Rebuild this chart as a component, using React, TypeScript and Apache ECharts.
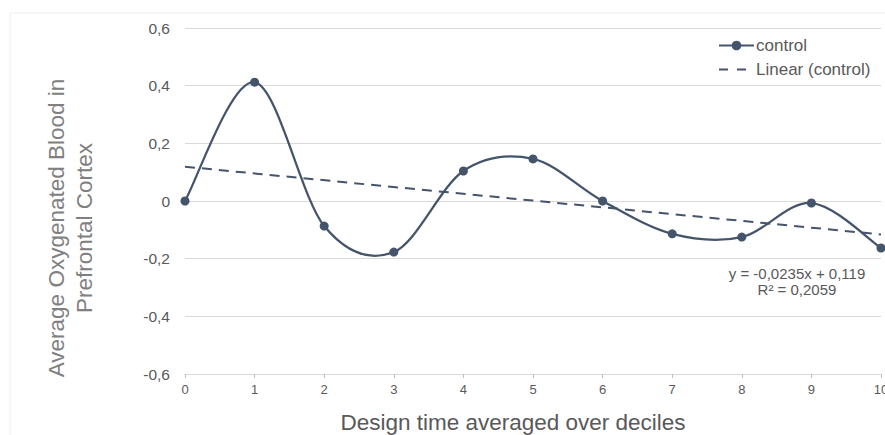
import React, { useEffect, useRef } from "react";
import * as echarts from "echarts";

const deciles = [0, 1, 2, 3, 4, 5, 6, 7, 8, 9, 10];
const controlValues = [0, 0.412, -0.087, -0.177, 0.104, 0.146, 0, -0.114, -0.125, -0.007, -0.163];
const trendX = [0, 10];
const trendValues = [0.119, -0.116];
const yTicks = [-0.6, -0.4, -0.2, 0, 0.2, 0.4, 0.6];
const equationLines = ["y = -0,0235x + 0,119", "R² = 0,2059"];

const LINE = "#44546A";
const FONT = "Liberation Sans, Arial, sans-serif";

function fmt(v: number): string {
  const r = Math.round(v * 10) / 10;
  if (r === 0) return "0";
  return r.toFixed(1).replace(".", ",");
}

export default function App() {
  const ref = useRef<HTMLDivElement>(null);
  useEffect(() => {
    if (!ref.current) return;
    const chart = echarts.init(ref.current, undefined, { renderer: "svg" });
    const n = deciles.length;
    const renderCurve = (params: any, api: any) => {
      const i = params.dataIndex;
      if (i >= n - 1) return null;
      const pt = (k: number) => {
        const kk = Math.max(0, Math.min(n - 1, k));
        return api.coord([deciles[kk], controlValues[kk]]);
      };
      const p0 = pt(i - 1);
      const p1 = pt(i);
      const p2 = pt(i + 1);
      const p3 = pt(i + 2);
      return {
        type: "bezierCurve",
        shape: {
          x1: p1[0],
          y1: p1[1],
          cpx1: p1[0] + (p2[0] - p0[0]) / 6,
          cpy1: p1[1] + (p2[1] - p0[1]) / 6,
          cpx2: p2[0] - (p3[0] - p1[0]) / 6,
          cpy2: p2[1] - (p3[1] - p1[1]) / 6,
          x2: p2[0],
          y2: p2[1],
        },
        style: { stroke: LINE, lineWidth: 2.25, fill: "none" },
        silent: true,
      };
    };
    chart.setOption({
      animation: false,
      backgroundColor: "#ffffff",
      grid: { left: 185, right: 4, top: 28, bottom: 61, outerBoundsMode: "none", containLabel: false },
      legend: {
        orient: "vertical",
        left: 713,
        top: 32,
        itemWidth: 35,
        itemHeight: 12,
        itemGap: 7,
        textStyle: { fontSize: 17, color: "#595959", fontFamily: FONT, padding: [0, 0, 0, -3] },
        data: [
          { name: "control", lineStyle: { color: LINE, width: 2, opacity: 1 } },
          { name: "Linear (control)", itemStyle: { opacity: 0 }, lineStyle: { type: [9, 9], width: 2 } },
        ],
      },
      xAxis: [
        {
          type: "value",
          min: 0,
          max: 10,
          interval: 1,
          position: "bottom",
          axisLine: { show: false },
          axisTick: { show: false },
          splitLine: { show: false },
          axisLabel: { fontSize: 13, color: "#595959", margin: 9, fontFamily: FONT, formatter: (v: number) => String(v) },
          name: "Design time averaged over deciles",
          nameLocation: "middle",
          nameGap: 37,
          nameTextStyle: { fontSize: 22.5, color: "#595959", fontFamily: FONT, padding: [0, 40, 0, 0] },
        },
        {
          type: "value",
          min: 0,
          max: 10,
          interval: 1,
          position: "bottom",
          axisLine: { show: true, onZero: true, lineStyle: { color: "#d9d9d9", width: 1 } },
          axisTick: { show: true, length: 4, lineStyle: { color: "#bfbfbf" } },
          axisLabel: { show: false },
          splitLine: { show: false },
        },
      ],
      yAxis: {
        type: "value",
        min: yTicks[0],
        max: yTicks[yTicks.length - 1],
        interval: 0.2,
        axisLine: { show: false },
        axisTick: { show: false },
        splitLine: { show: true, lineStyle: { color: "#d9d9d9", width: 1 } },
        axisLabel: { fontSize: 15.5, color: "#595959", margin: 15, fontFamily: FONT, formatter: fmt },
      },
      series: [
        {
          name: "control",
          type: "line",
          xAxisIndex: 0,
          symbol: "circle",
          symbolSize: 9,
          data: deciles.map((d, i) => [d, controlValues[i]]),
          lineStyle: { color: LINE, width: 0, opacity: 0 },
          itemStyle: { color: LINE },
          z: 4,
        },
        {
          name: "control curve",
          type: "custom",
          xAxisIndex: 0,
          renderItem: renderCurve,
          data: deciles.map((d, i) => [d, controlValues[i]]),
          encode: { x: 0, y: 1 },
          z: 3,
        },
        {
          name: "Linear (control)",
          type: "line",
          xAxisIndex: 0,
          symbol: "none",
          data: trendX.map((d, i) => [d, trendValues[i]]),
          lineStyle: { color: LINE, width: 2, type: [10, 7] },
          itemStyle: { color: LINE },
          z: 2,
        },
      ],
      graphic: [
        {
          type: "rect",
          shape: { x: 10, y: 13, width: 900, height: 440 },
          style: { fill: "none", stroke: "#eeeeee", lineWidth: 1 },
          silent: true,
          z: -1,
        },
        {
          type: "text",
          x: 70,
          y: 228,
          rotation: Math.PI / 2,
          style: {
            text: "Average Oxygenated Blood in\nPrefrontal Cortex",
            fontSize: 22.5,
            lineHeight: 28,
            fill: "#808080",
            align: "center",
            verticalAlign: "middle",
            fontFamily: FONT,
          },
        },
        {
          type: "text",
          x: 797,
          y: 265,
          style: {
            text: equationLines.join("\n"),
            fontSize: 15,
            lineHeight: 16,
            fill: "#595959",
            align: "center",
            fontFamily: FONT,
          },
        },
      ],
    });
    return () => chart.dispose();
  }, []);
  return <div ref={ref} style={{ position: "fixed", left: 0, top: 0, width: 885, height: 435 }} />;
}
